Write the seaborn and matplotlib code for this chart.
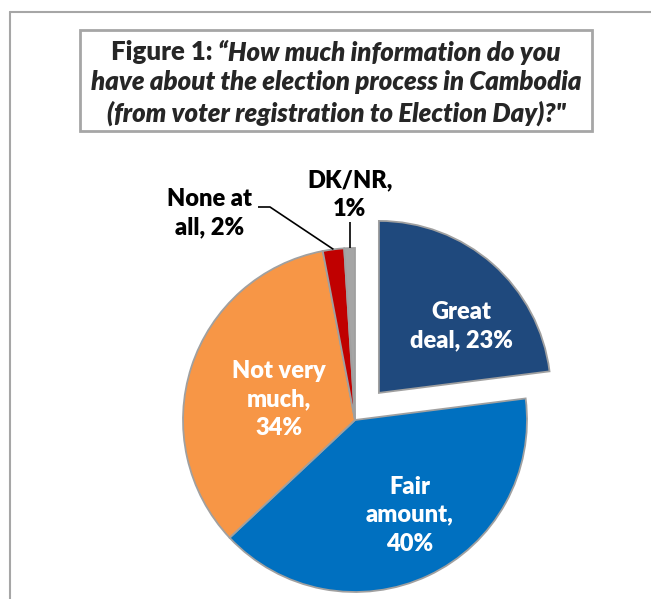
import numpy as np
import matplotlib
matplotlib.use("Agg")
import matplotlib.pyplot as plt
import seaborn as sns

# Survey responses (percent)
categories = ["Great deal", "Fair amount", "Not very much", "None at all", "DK/NR"]
shares = [23, 40, 34, 2, 1]
slice_colors = ["#1F497D", "#0070C0", "#F79646", "#C00000", "#A5A5A5"]
label_texts = ["Great\ndeal, 23%", "Fair\namount,\n40%", "Not very\nmuch,\n34%",
               "None at\nall, 2%", "DK/NR,\n1%"]
label_colors = ["white", "white", "white", "black", "black"]
# label placement: (radius, angle in degrees) measured from each wedge's center
label_polar = [(0.62, 39), (0.64, -60), (0.46, 165), (1.47, 125), (1.31, 91.3)]
explode = [0.21, 0, 0, 0, 0]

title_lead = "Figure 1: "
title_lines = ["\u201cHow much information do you",
               "have about the election process in Cambodia",
               "(from voter registration to Election Day)?\""]

sns.set_theme(style="white")
plt.rcParams["font.family"] = ["Lato", "DejaVu Sans"]

W, H, DPI = 651, 599, 100
fig = plt.figure(figsize=(W / DPI, H / DPI), dpi=DPI)
fig.patch.set_facecolor("white")

# outer frame (top and left edges)
frame_col = "#A6A6A6"
fig.add_artist(plt.Line2D([10 / W, 1], [1 - 12 / H, 1 - 12 / H], color=frame_col, lw=1.5))
fig.add_artist(plt.Line2D([10 / W, 10 / W], [0, 1 - 12 / H], color=frame_col, lw=1.5))

# pie axes: pie center at (355, 420) px, radius 172 px
cx, cy, R = 355, 420, 172
ax = fig.add_axes([0, 0, 1, 1])

wedges, _ = ax.pie(shares, colors=slice_colors, startangle=90, counterclock=False,
                   explode=explode, radius=1,
                   wedgeprops=dict(edgecolor="#A0A0A0", linewidth=1.3))
ax.set_aspect("auto")
ax.set_xlim(-cx / R, (W - cx) / R)
ax.set_ylim(-(H - cy) / R, cy / R)
ax.set_axis_off()

fs = 17
for w, txt, col, (r, ang) in zip(wedges, label_texts, label_colors, label_polar):
    x0, y0 = w.center
    x = x0 + r * np.cos(np.radians(ang))
    y = y0 + r * np.sin(np.radians(ang))
    ax.text(x, y, txt, color=col, ha="center", va="center", fontsize=fs,
            fontweight="heavy", linespacing=1.36)

# leader lines for the two thin slices
def edge_point(w):
    mid = np.radians((w.theta1 + w.theta2) / 2)
    return w.center[0] + np.cos(mid), w.center[1] + np.sin(mid)

ex, ey = edge_point(wedges[3])
ax.plot([(258 - cx) / R, (270 - cx) / R, ex], [(cy - 207) / R, (cy - 207) / R, ey],
        color="black", lw=1.2, solid_capstyle="butt")
ex, ey = edge_point(wedges[4])
ax.plot([ex, ex], [(cy - 222) / R, ey], color="black", lw=1.2, solid_capstyle="butt")

# title box
bx0, by0, bx1, by1 = 80, 30, 592, 131
fig.add_artist(plt.Rectangle((bx0 / W, 1 - by1 / H), (bx1 - bx0) / W, (by1 - by0) / H,
                             fill=False, edgecolor=frame_col, lw=2))

tfs = 18.5
line_y = [52, 82, 113]
fig.canvas.draw()
rend = fig.canvas.get_renderer()
t_lead = fig.text(0, 0, title_lead, fontsize=tfs, fontweight="heavy", va="center")
t_rest = fig.text(0, 0, title_lines[0], fontsize=tfs, fontweight="heavy",
                  style="italic", va="center")
w_lead = t_lead.get_window_extent(rend).width
w_rest = t_rest.get_window_extent(rend).width
xmid = (bx0 + bx1) / 2
xstart = xmid - (w_lead + w_rest) / 2
t_lead.set_position((xstart / W, 1 - line_y[0] / H))
t_rest.set_position(((xstart + w_lead) / W, 1 - line_y[0] / H))
for ln, yy in zip(title_lines[1:], line_y[1:]):
    fig.text(xmid / W, 1 - yy / H, ln, fontsize=tfs, fontweight="heavy",
             style="italic", ha="center", va="center")

fig.savefig("out.png", dpi=DPI)
